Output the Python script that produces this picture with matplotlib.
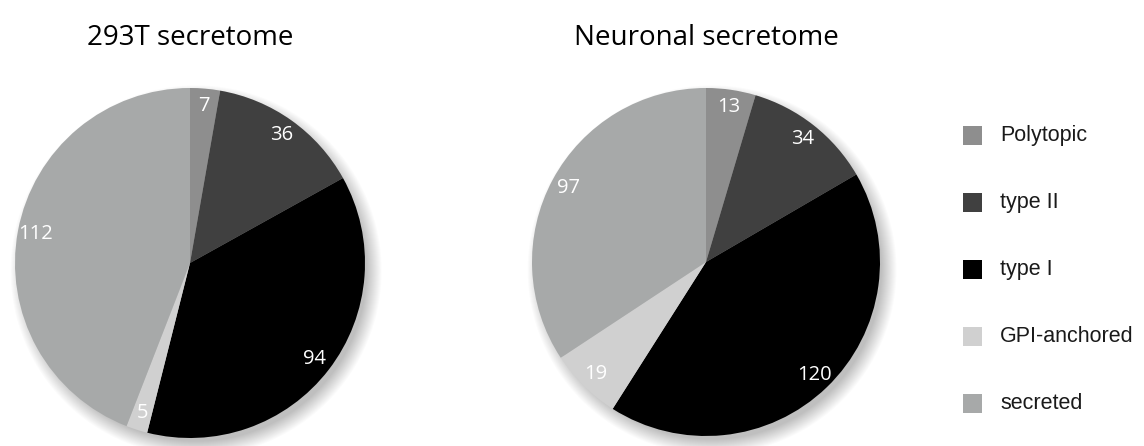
import matplotlib.pyplot as plt
from matplotlib.patches import Circle, Rectangle

categories = ['Polytopic', 'type II', 'type I', 'GPI-anchored', 'secreted']
colors = ['#8e8e8e', '#404040', '#000000', '#d0d0d0', '#a7a9a9']

titles = ['293T secretome', 'Neuronal secretome']
counts_293t = [7, 36, 94, 5, 112]
counts_neuronal = [13, 34, 120, 19, 97]

W, H = 1144, 446
fig = plt.figure(figsize=(W / 100, H / 100), dpi=100)


def draw_pie(cx, cy, r, counts, title):
    # axes box in pixels, a bit larger than the pie so the shadow fits
    half = r + 30
    ax = fig.add_axes([(cx - half) / W, (H - cy - half) / H, 2 * half / W, 2 * half / H])
    lim = half / r
    ax.set_aspect('equal')
    ax.axis('off')

    # soft shadow below-right of the pie
    n = 16
    for i in range(n):
        ax.add_patch(Circle((0.035, -0.045), 0.97 + 0.09 * (i + 1) / n,
                            color='black', alpha=0.014, lw=0, zorder=0))

    total = sum(counts)
    wedges, _, texts = ax.pie(counts, colors=colors, startangle=90, counterclock=False,
                              radius=1, autopct=lambda p: '%d' % round(p * total / 100),
                              pctdistance=0.9, wedgeprops=dict(linewidth=0),
                              textprops=dict(color='white', fontsize=14.5, family='Open Sans'))
    for w in wedges:
        w.set_zorder(2)
    for t in texts:
        t.set_zorder(3)
    ax.set_xlim(-lim, lim)
    ax.set_ylim(-lim, lim)

    fig.text(cx / W, 1 - 38 / H, title, ha='center', va='center',
             fontsize=20, family='Open Sans', color='black')


draw_pie(190, 263, 175, counts_293t, titles[0])
draw_pie(706, 262, 174, counts_neuronal, titles[1])

# legend on the right
for i, (name, c) in enumerate(zip(categories, colors)):
    y = 135 + 67.2 * i
    fig.patches.append(Rectangle((963 / W, 1 - (y + 9.5) / H), 19 / W, 19 / H,
                                 transform=fig.transFigure, color=c, lw=0))
    fig.text(1000 / W, 1 - y / H, name, ha='left', va='center',
             fontsize=15.5, family='Liberation Sans', color='#1a1a1a')

fig.savefig('out.png', dpi=100)
